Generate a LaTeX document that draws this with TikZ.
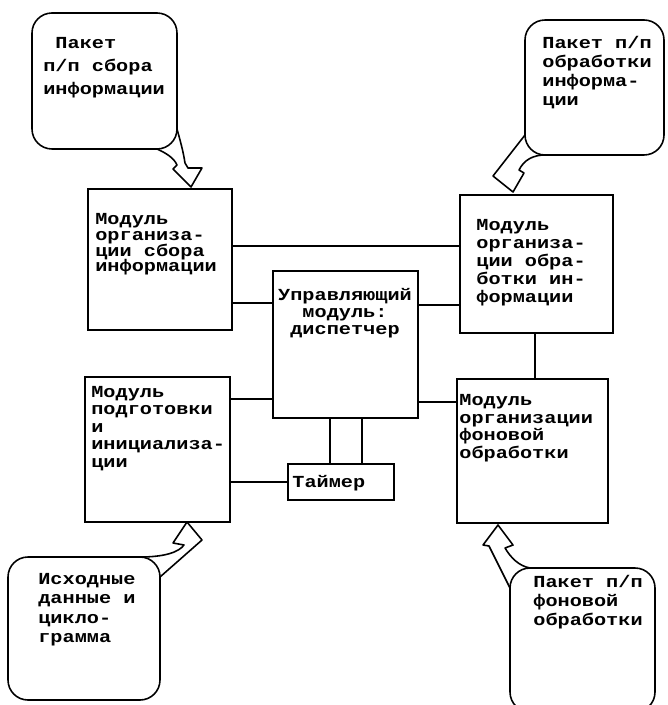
\documentclass[tikz,border=0pt]{standalone}
\usepackage{fontspec}
\usetikzlibrary{fit}
\newfontfamily\typew[FakeStretch=1.2]{Liberation Mono}
\newcommand\tw[1]{\typew\bfseries\fontsize{9.6}{#1}\selectfont\lineskiplimit=-20pt}
\tikzset{
  box/.style={draw,line width=.9pt,inner sep=0pt},
  bubble/.style={box,rounded corners=.4cm},
  txt/.style={inner sep=0pt,anchor=north west,align=left},
  link/.style={line width=.9pt},
  hollow/.style={line width=.9pt,line join=round},
}
\begin{document}
\begin{tikzpicture}[x=.02cm,y=-.02cm]
\useasboundingbox (0,0) rectangle (667,705);
\clip (0,0) rectangle (667,705);

\node[box,fit={(88,189) (232,330)}] (sbor) {};
\node[box,fit={(460,195) (613,333)}] (obrab) {};
\node[box,fit={(273,271) (418,418)}] (disp) {};
\node[box,fit={(85,377) (230,522)}] (podg) {};
\node[box,fit={(457,379) (608,523)}] (fon) {};
\node[box,fit={(288,464) (394,500)}] (taimer) {};
\node[bubble,fit={(32,13) (177,149)}] (paksbor) {};
\node[bubble,fit={(525,20) (664,155)}] (pakobr) {};
\node[bubble,fit={(8,557) (160,700)}] (ishod) {};
\node[bubble,fit={(510,568) (655,712)}] (pakfon) {};

\node[txt,font=\tw{13}] (tpaksbor) at (43,37) {\hphantom{x}Пакет\\п/п сбора\\информации};
\node[txt,font=\tw{10.8}] (tpakobr) at (542,36) {Пакет п/п\\обработки\\информа-\\ции};
\node[txt,font=\tw{11}] (tishod) at (38,573) {Исходные\\данные и\\цикло-\\грамма};
\node[txt,font=\tw{10.8}] (tpakfon) at (533,575) {Пакет п/п\\фоновой\\обработки};
\node[txt,font=\tw{9}] (tsbor) at (95,213) {Модуль\\организа-\\ции сбора\\информации};
\node[txt,font=\tw{10.2}] (tobrab) at (476,219) {Модуль\\организа-\\ции обра-\\ботки ин-\\формации};
\node[txt,font=\tw{9.7},anchor=north,align=center] (tdisp) at (345,288) {Управляющий\\модуль:\\диспетчер};
\node[txt,font=\tw{9.9}] (tpodg) at (91,386) {Модуль\\подготовки\\и\\инициализа-\\ции};
\node[txt,font=\tw{10}] (tfon) at (459,394) {Модуль\\организации\\фоновой\\обработки};
\node[txt,font=\tw{10},anchor=west] (ttaimer) at (292,483) {Таймер};

\draw[link] (sbor.east |- 0,246) -- (obrab.west |- 0,246);
\draw[link] (sbor.east |- 0,303) -- (disp.west |- 0,303);
\draw[link] (disp.east |- 0,305) -- (obrab.west |- 0,305);
\draw[link] (podg.east |- 0,399) -- (disp.west |- 0,399);
\draw[link] (disp.east |- 0,402) -- (fon.west |- 0,402);
\draw[link] (podg.east |- 0,482) -- (taimer.west);
\draw[link] (disp.south -| 330,0) -- (taimer.north -| 330,0);
\draw[link] (disp.south -| 362,0) -- (taimer.north -| 362,0);
\draw[link] (obrab.south -| 535,0) -- (fon.north -| 535,0);

% hollow arrows from the bubbles
\draw[hollow] (157,149) .. controls (166,153) and (174,158) .. (177,165) -- (173,169) -- (191,187) -- (202,168) -- (188,168) -- (185,163) .. controls (183,150) and (180,140) .. (177,129);
\draw[hollow] (525,135) -- (493,176) -- (513,192) -- (524,173) -- (519,170) .. controls (524,160) and (533,155) .. (545,155);
\draw[hollow] (140,557) .. controls (165,557) and (179,552) .. (184,545) -- (173,543) -- (187,522) -- (202,540) -- (160,577);
\draw[hollow] (510,588) -- (489,546) -- (483,545) -- (498,525) -- (513,545) -- (505,548) .. controls (511,558) and (519,566) .. (530,568);

\end{tikzpicture}
\end{document}
